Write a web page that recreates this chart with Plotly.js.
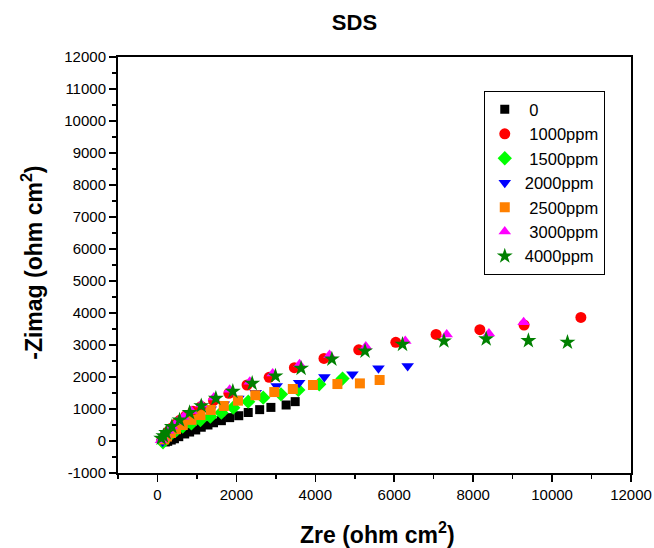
<!DOCTYPE html>
<html>
<head>
<meta charset="utf-8">
<script src="https://cdn.plot.ly/plotly-3.0.1.min.js"></script>
<style>html,body{margin:0;padding:0;background:#fff;}#chart{width:654px;height:548px;}</style>
</head>
<body>
<div id="chart"></div>
<script>
const seriesNames = ["0", "1000ppm", "1500ppm", "2000ppm", "2500ppm", "3000ppm", "4000ppm"];
const legendIndent = ["\u00a0", "\u00a0", "\u00a0", "", "\u00a0", "\u00a0", ""];

const x0 = [200, 260, 350, 430, 540, 690, 815, 970, 1110, 1280, 1420, 1620, 1830, 2060, 2300, 2590, 2875, 3260, 3490];
const y0 = [-30, -10, 30, 70, 135, 220, 280, 345, 430, 500, 570, 635, 730, 790, 890, 980, 1050, 1125, 1230];

const x1000 = [110, 150, 200, 270, 350, 450, 570, 720, 900, 1110, 1420, 1810, 2270, 2830, 3470, 4220, 5100, 6040, 7060, 8170, 9290, 10730];
const y1000 = [30, 100, 190, 290, 400, 520, 650, 790, 930, 1080, 1260, 1490, 1750, 1990, 2290, 2580, 2850, 3085, 3330, 3480, 3625, 3860];

const x1500 = [140, 180, 250, 350, 480, 640, 860, 1090, 1340, 1620, 1920, 2300, 2680, 3130, 3570, 4100, 4690];
const y1500 = [-40, 40, 130, 230, 340, 450, 550, 655, 760, 885, 1040, 1230, 1355, 1460, 1595, 1770, 1950];

const x2000 = [130, 180, 260, 360, 490, 650, 850, 1080, 1350, 1680, 2050, 2490, 3020, 3590, 4230, 4940, 5600, 6340];
const y2000 = [-20, 90, 200, 320, 440, 570, 700, 840, 990, 1150, 1330, 1510, 1720, 1820, 2000, 2085, 2270, 2345];

const x2500 = [170, 240, 340, 470, 640, 860, 1090, 1350, 1680, 2040, 2480, 2960, 3430, 3940, 4560, 5130, 5630];
const y2500 = [50, 140, 250, 370, 500, 660, 810, 970, 1095, 1260, 1430, 1530, 1625, 1750, 1780, 1800, 1906];

const x3000 = [90, 130, 190, 270, 370, 500, 660, 860, 1110, 1430, 1830, 2340, 2920, 3600, 4360, 5280, 6280, 7330, 8400, 9280];
const y3000 = [20, 100, 200, 320, 450, 600, 760, 940, 1140, 1360, 1600, 1850, 2110, 2400, 2690, 2950, 3125, 3330, 3360, 3710];

const x4000 = [95, 150, 220, 365, 560, 815, 1110, 1480, 1910, 2400, 2990, 3640, 4420, 5260, 6210, 7260, 8330, 9400, 10390];
const y4000 = [85, 160, 260, 450, 655, 885, 1100, 1330, 1550, 1800, 2030, 2270, 2560, 2810, 3020, 3125, 3190, 3135, 3085];

const xTicks = [0, 2000, 4000, 6000, 8000, 10000, 12000];
const xMinorTicks = [-1000, 1000, 3000, 5000, 7000, 9000, 11000];
const yTicks = [-1000, 0, 1000, 2000, 3000, 4000, 5000, 6000, 7000, 8000, 9000, 10000, 11000, 12000];

const xs = [x0, x1000, x1500, x2000, x2500, x3000, x4000];
const ys = [y0, y1000, y1500, y2000, y2500, y3000, y4000];
const symbols = ["square", "circle", "diamond", "triangle-down", "square", "triangle-up", "star"];
const colors = ["#000000", "#ff0000", "#00ff00", "#0000ff", "#ff8000", "#ff00ff", "#008000"];
const sizes = [9, 11, 11, 11, 10, 11, 12];

const traces = seriesNames.map((n, i) => ({
  type: "scatter", mode: "markers", name: legendIndent[i] + n,
  x: xs[i], y: ys[i],
  marker: {symbol: symbols[i], color: colors[i], size: sizes[i], line: {width: 0}}
}));

const font = "Arial, 'Liberation Sans', sans-serif";
const layout = {
  width: 654, height: 548,
  margin: {l: 118, r: 23, t: 57, b: 75},
  paper_bgcolor: "#fff", plot_bgcolor: "#fff",
  separators: ".",
  font: {family: font, color: "#000", size: 15},
  showlegend: true,
  title: {text: "<b>SDS</b>", font: {size: 22, family: font}, xref: "paper", x: 0.461, xanchor: "center", yref: "container", y: 0.96, yanchor: "middle"},
  xaxis: {
    range: [-1000, 12000], tickvals: xTicks, ticktext: xTicks.map(String),
    ticks: "outside", ticklen: 7, tickwidth: 1.5, tickcolor: "#000",
    minor: {tickvals: xMinorTicks, ticks: "outside", ticklen: 4, tickwidth: 1.5, tickcolor: "#000"},
    showline: true, linecolor: "#000", linewidth: 2, mirror: true,
    showgrid: false, zeroline: false, tickfont: {size: 15}
  },
  yaxis: {
    range: [-1000, 12000], tickvals: yTicks, ticktext: yTicks.map(String),
    ticks: "outside", ticklen: 7, tickwidth: 1.5, tickcolor: "#000",
    minor: {dtick: 500, ticks: "outside", ticklen: 4, tickwidth: 1.5, tickcolor: "#000"},
    showline: true, linecolor: "#000", linewidth: 2, mirror: true,
    showgrid: false, zeroline: false, tickfont: {size: 15}
  },
  annotations: [
    {text: "<b>Zre (ohm cm<sup>2</sup>)</b>", xref: "paper", yref: "paper", x: 0.506, y: -0.144, xanchor: "center", yanchor: "middle", showarrow: false, font: {size: 23, family: font}},
    {text: "<b>-Zimag (ohm cm<sup>2</sup>)</b>", xref: "paper", yref: "paper", x: -0.168, y: 0.505, xanchor: "center", yanchor: "middle", showarrow: false, textangle: -90, font: {size: 23, family: font}}
  ],
  legend: {
    x: 0.713, y: 0.918, xanchor: "left", yanchor: "top",
    bordercolor: "#000", borderwidth: 1, bgcolor: "#fff",
    font: {size: 16.5, family: font}, tracegroupgap: 0
  }
};

Plotly.newPlot("chart", traces, layout, {displayModeBar: false, staticPlot: true});
</script>
</body>
</html>
